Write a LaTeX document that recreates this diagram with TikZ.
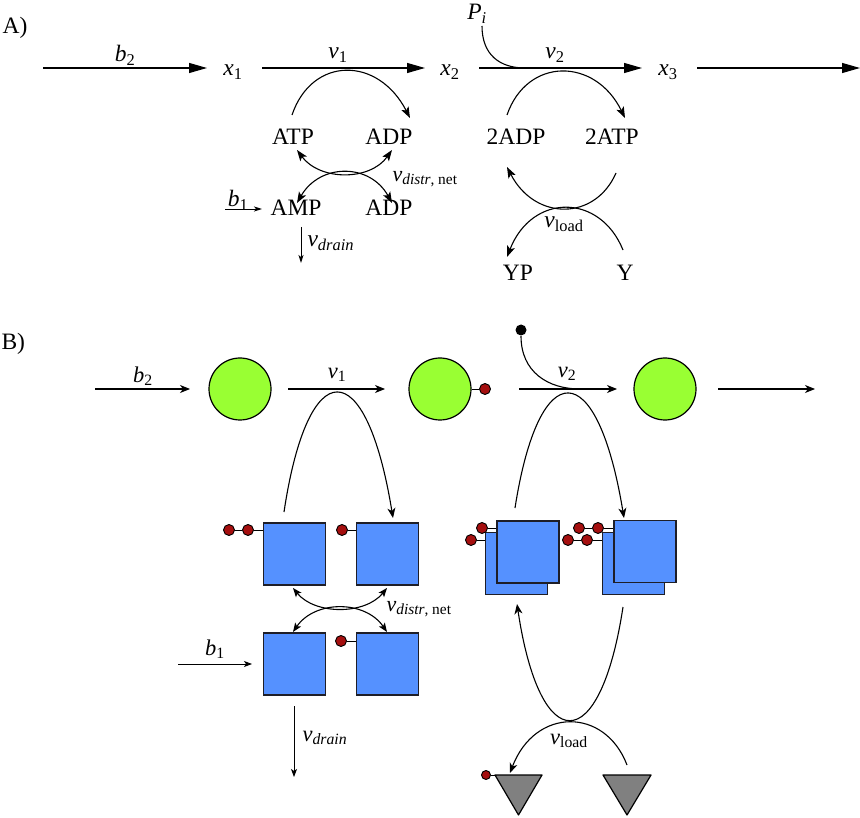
\documentclass[tikz,border=0pt]{standalone}
\usepackage{fontspec}
\setmainfont{Liberation Serif}
\usetikzlibrary{arrows.meta,calc}
\definecolor{cgreen}{RGB}{153,255,51}
\definecolor{cblue}{RGB}{85,145,255}
\definecolor{cred}{RGB}{165,15,15}
\definecolor{cgray}{RGB}{128,128,128}
\definecolor{cedge}{RGB}{30,30,40}
\newcommand\vsub[1]{\textit{v}\textsubscript{#1}}
\tikzset{
 bigarr/.style={-{Triangle[length=18pt,width=10pt]}},
 carr/.style={-{Stealth[length=11pt,width=8pt,inset=2.5pt]}},
 dcarr/.style={{Stealth[length=11pt,width=8pt,inset=2.5pt]}-{Stealth[length=11pt,width=8pt,inset=2.5pt]}},
 barr/.style={-{Stealth[length=10pt,width=8pt,inset=3pt]}},
 lblA/.style={inner sep=0pt,font=\fontsize{23.5}{27}\selectfont},
 lblB/.style={inner sep=0pt,font=\fontsize{22.5}{26}\selectfont},
 ball/.style={circle,draw=black,line width=1.2pt,fill=cgreen,minimum size=62pt,inner sep=0pt},
 sqbox/.style={rectangle,draw=cedge,line width=1.3pt,fill=cblue,minimum size=62pt,inner sep=0pt},
 pdot/.style={circle,draw=black,line width=0.9pt,fill=cred,minimum size=11pt,inner sep=0pt},
 bdot/.style={circle,fill=black,minimum size=11pt,inner sep=0pt},
 tri/.style={draw=black,fill=cgray,line width=1.2pt,line join=round}
}
\begin{document}
\begin{tikzpicture}[x=1pt,y=-1pt,line width=1.1pt]
\useasboundingbox (0,0) rectangle (860,818);

% ================= Panel A =================
\node[lblA,anchor=west] (labA) at (2,28) {A)};
\node[lblA] (x1) at (233,72) {\textit{x}\textsubscript{1}};
\node[lblA] (x2) at (450,72) {\textit{x}\textsubscript{2}};
\node[lblA] (x3) at (668,72) {\textit{x}\textsubscript{3}};
\node[lblA] (b2A) at (125,55) {\textit{b}\textsubscript{2}};
\node[lblA] (v1A) at (338,55) {\vsub{1}};
\node[lblA] (v2A) at (555,55) {\vsub{2}};
\node[lblA] (PiA) at (477,14) {\textit{P}\textsubscript{\textit{i}}};
\node[lblA] (ATP) at (293,137) {ATP};
\node[lblA] (ADP1) at (389,137) {ADP};
\node[lblA] (AMP) at (296,208) {AMP};
\node[lblA] (ADP2) at (389,208) {ADP};
\node[lblA] (b1A) at (238,200) {\textit{b}\textsubscript{1}};
\node[lblA,anchor=west,font=\fontsize{22}{26}\selectfont] (vdA) at (392,179) {\vsub{\textit{distr}, net}};
\node[lblA,anchor=west] (vdrA) at (307,243) {\vsub{\textit{drain}}};
\node[lblA] (ADP2x) at (516,137) {2ADP};
\node[lblA] (ATP2x) at (612,137) {2ATP};
\node[lblA] (vlA) at (564,224) {\vsub{load}};
\node[lblA] (YP) at (518,273) {YP};
\node[lblA] (Y) at (625,273) {Y};

\coordinate (a1s) at (43,68);  \coordinate (a1e) at (207,68);
\coordinate (a2s) at (262,68); \coordinate (a2e) at (425,68);
\coordinate (a3s) at (479,68); \coordinate (a3e) at (642,68);
\coordinate (a4s) at (697,68); \coordinate (a4e) at (860,68);
\draw[bigarr] (a1s) -- (a1e);
\draw[bigarr] (a2s) -- (a2e);
\draw[bigarr] (a3s) -- (a3e);
\draw[bigarr] (a4s) -- (a4e);
% Pi curve
\coordinate (piS) at (482,26); \coordinate (piE) at (525,68);
\draw (piS) .. controls (482,55) and (500,68) .. (piE);
% v1 arch
\coordinate (v1s) at (292,115); \coordinate (v1e) at (410,118);
\draw[carr] (v1s) .. controls (312,56) and (378,56) .. (v1e);
% crossing distr
\coordinate (cr1) at (297,150); \coordinate (cr2) at (392,150);
\coordinate (cr3) at (297,203); \coordinate (cr4) at (392,203);
\draw[dcarr] (cr1) .. controls (320,181) and (370,181) .. (cr2);
\draw[dcarr] (cr3) .. controls (320,163) and (370,163) .. (cr4);
% b1 and drain
\coordinate (b1s) at (225,209); \coordinate (b1e) at (262,209);
\draw[-{Stealth[length=8pt,width=5pt,inset=2pt]},line width=0.9pt] (b1s) -- (b1e);
\coordinate (drs) at (301,227); \coordinate (dre) at (301,263);
\draw[-{Stealth[length=8pt,width=5pt,inset=2pt]},line width=0.9pt] (drs) -- (dre);
% v2 arch
\coordinate (v2s) at (507,115); \coordinate (v2e) at (625,118);
\draw[carr] (v2s) .. controls (527,57) and (595,57) .. (v2e);
% vload crossing
\coordinate (l1s) at (616,173); \coordinate (l1e) at (507,167);
\coordinate (l2s) at (623,250); \coordinate (l2e) at (507,257);
\draw[carr] (l1s) .. controls (595,221) and (535,221) .. (l1e);
\draw[carr] (l2s) .. controls (600,193) and (532,193) .. (l2e);

% ================= Panel B =================
\node[lblA,anchor=west] (labB) at (1,344) {B)};
\node[ball] (c1) at (240,389) {};
\node[ball] (c2) at (440,389) {};
\node[ball] (c3) at (665,389) {};
\node[pdot] (c2d) at (485,389) {};
\draw[line width=0.9pt] (c2) -- (c2d);
\node[bdot] (pB) at (521,330) {};

\node[lblB] (b2B) at (143,376) {\textit{b}\textsubscript{2}};
\node[lblB] (v1B) at (337,375) {\vsub{1}};
\node[lblB] (v2B) at (567,374) {\vsub{2}};

\coordinate (B1s) at (95,389);  \coordinate (B1e) at (190,389);
\coordinate (B2s) at (288,389); \coordinate (B2e) at (385,389);
\coordinate (B3s) at (519,389); \coordinate (B3e) at (617,389);
\coordinate (B4s) at (718,389); \coordinate (B4e) at (815,389);
\draw[barr] (B1s) -- (B1e);
\draw[barr] (B2s) -- (B2e);
\draw[barr] (B3s) -- (B3e);
\draw[barr] (B4s) -- (B4e);
\coordinate (pBe) at (580,389);
\draw (pB) .. controls (521,372) and (548,389) .. (pBe);

% squares
\node[sqbox] (s1) at (294.5,554) {};
\node[sqbox] (s2) at (387.5,554) {};
\node[sqbox] (s3) at (294.5,664) {};
\node[sqbox] (s4) at (387.5,664) {};
\node[sqbox] (sLb) at (516.5,563.5) {};
\node[sqbox] (sLf) at (528,552) {};
\node[sqbox] (sRb) at (633.5,563.5) {};
\node[sqbox] (sRf) at (645,551.5) {};

% dots
\node[pdot] (d11) at (229,530) {};
\node[pdot] (d12) at (248,530) {};
\draw[line width=0.9pt] (d11) -- (d12) -- (d12 -| s1.west);
\node[pdot] (d21) at (342,530) {};
\draw[line width=0.9pt] (d21) -- (d21 -| s2.west);
\node[pdot] (d41) at (341,641) {};
\draw[line width=0.9pt] (d41) -- (d41 -| s4.west);
\node[pdot] (dL1) at (482,528) {};
\draw[line width=0.9pt] (dL1) -- (dL1 -| sLf.west);
\node[pdot] (dL2) at (471,540) {};
\draw[line width=0.9pt] (dL2) -- (dL2 -| sLb.west);
\node[pdot] (dR1a) at (579,528) {};
\node[pdot] (dR1b) at (598,528) {};
\draw[line width=0.9pt] (dR1a) -- (dR1b) -- (dR1b -| sRf.west);
\node[pdot] (dR2a) at (568,540) {};
\node[pdot] (dR2b) at (587,540) {};
\draw[line width=0.9pt] (dR2a) -- (dR2b) -- (dR2b -| sRb.west);

% v1 arch B
\coordinate (bv1s) at (284,512); \coordinate (bv1e) at (393,518);
\draw[barr] (bv1s) .. controls (308,352) and (366,352) .. (bv1e);
% v2 arch B
\coordinate (bv2s) at (515,508); \coordinate (bv2e) at (624,518);
\draw[barr] (bv2s) .. controls (539,354) and (597,354) .. (bv2e);

% distr crossing B
\coordinate (bc1) at (293,588); \coordinate (bc2) at (387,588);
\coordinate (bc3) at (293,632); \coordinate (bc4) at (387,632);
\draw[{Stealth[length=9pt,width=7pt,inset=2pt]}-{Stealth[length=9pt,width=7pt,inset=2pt]}] (bc1) .. controls (315,615) and (365,615) .. (bc2);
\draw[{Stealth[length=9pt,width=7pt,inset=2pt]}-{Stealth[length=9pt,width=7pt,inset=2pt]}] (bc3) .. controls (315,600) and (365,600) .. (bc4);
\node[lblB,anchor=west,font=\fontsize{22}{26}\selectfont] (vdB) at (386,609) {\vsub{\textit{distr}, net}};

% b1 and drain B
\node[lblB] (b1B) at (215,649) {\textit{b}\textsubscript{1}};
\coordinate (bb1s) at (178,664); \coordinate (bb1e) at (252,664);
\draw[-{Stealth[length=8pt,width=6pt,inset=2pt]},line width=0.9pt] (bb1s) -- (bb1e);
\coordinate (bdrs) at (294,706); \coordinate (bdre) at (294,777);
\draw[-{Stealth[length=8pt,width=6pt,inset=2pt]},line width=0.9pt] (bdrs) -- (bdre);
\node[lblB,anchor=west] (vdrB) at (302,738) {\vsub{\textit{drain}}};

% load V and arch B
\coordinate (bls) at (623,607); \coordinate (ble) at (517,604);
\draw[barr] (bls) .. controls (600,758) and (540,758) .. (ble);
\coordinate (bl2s) at (627,765); \coordinate (bl2e) at (510,773);
\draw[barr] (bl2s) .. controls (605,707) and (535,707) .. (bl2e);
\node[lblB] (vlB) at (569,741) {\vsub{load}};

% triangles
\coordinate (tL1) at (495,775); \coordinate (tL2) at (542,775); \coordinate (tL3) at (518.5,815);
\coordinate (tR1) at (603,775); \coordinate (tR2) at (651,775); \coordinate (tR3) at (627,815);
\draw[tri] (tL1) -- (tL2) -- (tL3) -- cycle;
\draw[tri] (tR1) -- (tR2) -- (tR3) -- cycle;
\node[pdot,minimum size=9pt] (tdot) at (486,775) {};
\draw[line width=0.9pt] (tdot) -- (tL1);
\end{tikzpicture}
\end{document}
